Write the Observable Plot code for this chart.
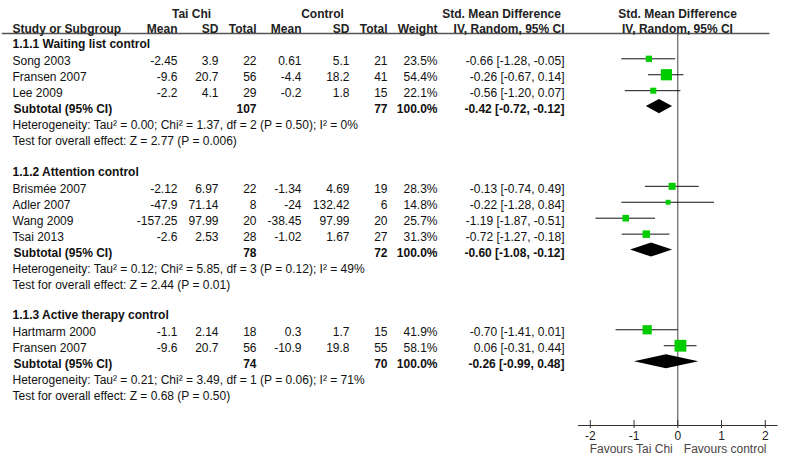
<!DOCTYPE html>
<html><head><meta charset="utf-8">
<script src="https://cdn.jsdelivr.net/npm/d3@7"></script>
<script src="https://cdn.jsdelivr.net/npm/@observablehq/plot@0.6"></script>
<style>html,body{margin:0;padding:0;background:#fff}</style>
</head><body><div id="chart"></div>
<script>
// ---- data ----
const groupNames = ["1.1.1 Waiting list control", "1.1.2 Attention control", "1.1.3 Active therapy control"];
const studies = ["Song 2003", "Fransen 2007", "Lee 2009", "Brismée 2007", "Adler 2007", "Wang 2009", "Tsai 2013", "Hartmarm 2000", "Fransen 2007"];
const studyGroup = [0, 0, 0, 1, 1, 1, 1, 2, 2];
const tcMean = [-2.45, -9.6, -2.2, -2.12, -47.9, -157.25, -2.6, -1.1, -9.6];
const tcSD = [3.9, 20.7, 4.1, 6.97, 71.14, 97.99, 2.53, 2.14, 20.7];
const tcTotal = [22, 56, 29, 22, 8, 20, 28, 18, 56];
const ctMean = [0.61, -4.4, -0.2, -1.34, -24, -38.45, -1.02, 0.3, -10.9];
const ctSD = [5.1, 18.2, 1.8, 4.69, 132.42, 97.99, 1.67, 1.7, 19.8];
const ctTotal = [21, 41, 15, 19, 6, 20, 27, 15, 55];
const weight = [23.5, 54.4, 22.1, 28.3, 14.8, 25.7, 31.3, 41.9, 58.1];
const smd = [-0.66, -0.26, -0.56, -0.13, -0.22, -1.19, -0.72, -0.70, 0.06];
const ciLow = [-1.28, -0.67, -1.20, -0.74, -1.28, -1.87, -1.27, -1.41, -0.31];
const ciHigh = [-0.05, 0.14, 0.07, 0.49, 0.84, -0.51, -0.18, 0.01, 0.44];

const subTcTotal = [107, 78, 74];
const subCtTotal = [77, 72, 70];
const subWeight = [100.0, 100.0, 100.0];
const subSmd = [-0.42, -0.60, -0.26];
const subLow = [-0.72, -1.08, -0.99];
const subHigh = [-0.12, -0.12, 0.48];
const heterogeneity = [
  "Heterogeneity: Tau² = 0.00; Chi² = 1.37, df = 2 (P = 0.50); I² = 0%",
  "Heterogeneity: Tau² = 0.12; Chi² = 5.85, df = 3 (P = 0.12); I² = 49%",
  "Heterogeneity: Tau² = 0.21; Chi² = 3.49, df = 1 (P = 0.06); I² = 71%"
];
const overallEffect = [
  "Test for overall effect: Z = 2.77 (P = 0.006)",
  "Test for overall effect: Z = 2.44 (P = 0.01)",
  "Test for overall effect: Z = 0.68 (P = 0.50)"
];
const topHeaders = ["Tai Chi", "Control", "Std. Mean Difference", "Std. Mean Difference"];
const colHeaders = ["Study or Subgroup", "Mean", "SD", "Total", "Mean", "SD", "Total", "Weight", "IV, Random, 95% CI", "IV, Random, 95% CI"];
const xTicks = [-2, -1, 0, 1, 2];
const favoursLabels = ["Favours Tai Chi", "Favours control"];

// ---- layout ----
const W = 787, H = 466;
const ML = 578, MR = 10.4, MT = 33, MB = 41;
const FS = 12;
const GDY = -2.7; // graphics offset relative to text rows
const f2 = v => v.toFixed(2);
const ci = (e, l, h) => `${f2(e)} [${f2(l)}, ${f2(h)}]`;

// build rows
let row = 2;
const groupRows = [], studyRows = [], subRows = [], hetRows = [], testRows = [];
groupNames.forEach((g, gi) => {
  groupRows.push({row, label: g}); row++;
  studies.forEach((s, i) => {
    if (studyGroup[i] !== gi) return;
    studyRows.push({row, name: s, tcMean: tcMean[i], tcSD: tcSD[i], tcTotal: tcTotal[i],
      ctMean: ctMean[i], ctSD: ctSD[i], ctTotal: ctTotal[i], weight: weight[i],
      smd: smd[i], lo: ciLow[i], hi: ciHigh[i]});
    row++;
  });
  subRows.push({row, g: gi, tc: subTcTotal[gi], ct: subCtTotal[gi], weight: subWeight[gi],
    smd: subSmd[gi], lo: subLow[gi], hi: subHigh[gi]});
  row++;
  hetRows.push({row, text: heterogeneity[gi]}); row++;
  testRows.push({row, text: overallEffect[gi]}); row += 2;
});
const HH = 0.44; // diamond half-height in rows
const diamonds = subRows.flatMap(s => [
  {g: s.g, y: s.row - HH, x1: s.smd, x2: s.smd},
  {g: s.g, y: s.row, x1: s.lo, x2: s.hi},
  {g: s.g, y: s.row + HH, x1: s.smd, x2: s.smd}
]);
const headerRows0 = topHeaders.map((t, i) => ({row: 0, text: t, i}));
const headerRows1 = colHeaders.map((t, i) => ({row: 1, text: t, i}));

const T = (data, text, px, anchor, extra = {}) => Plot.text(data, {
  y: "row", text, frameAnchor: "left", dx: px - ML, textAnchor: anchor,
  fontSize: FS, fill: "#111", ...extra
});

const topPos = [[191, "middle"], [322, "middle"], [501, "middle"], [677, "middle"]];
const colPos = [[12, "start"], [177, "end"], [218, "end"], [256, "end"], [301, "end"], [349, "end"], [387, "end"], [437, "end"], [564, "end"], [677, "middle"]];
const frameH = H - MT - MB;

const marks = [
  // header separator and zero line
  Plot.frame({anchor: "top", insetLeft: -(ML - 2), insetRight: -(W - MR - 785), stroke: "#555", strokeWidth: 1.5}),
  Plot.ruleX([0], {stroke: "#444", strokeWidth: 1}),
  Plot.frame({anchor: "bottom", stroke: "#333", strokeWidth: 1}),
  // tick marks crossing the axis line
  Plot.ruleX(xTicks, {x: d => d, insetTop: frameH - 5, insetBottom: -3, stroke: "#333", strokeWidth: 1}),
  Plot.axisX({ticks: xTicks, tickFormat: d => String(d), tickSize: 0, tickPadding: 6,
    fontSize: FS, fill: "#222", label: null}),
  ...favoursLabels.map((lab, i) => Plot.text([lab], {
    x: [0], frameAnchor: "bottom", dy: 27, dx: i === 0 ? -5 : 6,
    textAnchor: i === 0 ? "end" : "start", fontSize: FS, fill: "#4a4444"
  })),
  // headers
  ...topPos.map(([px, a], i) => T(headerRows0.filter(d => d.i === i), "text", px, a, {fontWeight: "bold", fill: "#222"})),
  ...colPos.map(([px, a], i) => T(headerRows1.filter(d => d.i === i), "text", px, a, {fontWeight: "bold", fill: "#222"})),
  // groups
  T(groupRows, "label", 12, "start", {fontWeight: "bold", dy: -1.2}),
  // studies
  T(studyRows, "name", 12, "start"),
  T(studyRows, d => String(d.tcMean), 177, "end"),
  T(studyRows, d => String(d.tcSD), 218, "end"),
  T(studyRows, d => String(d.tcTotal), 256, "end"),
  T(studyRows, d => String(d.ctMean), 301, "end"),
  T(studyRows, d => String(d.ctSD), 349, "end"),
  T(studyRows, d => String(d.ctTotal), 387, "end"),
  T(studyRows, d => d.weight.toFixed(1) + "%", 437, "end"),
  T(studyRows, d => ci(d.smd, d.lo, d.hi), 564, "end"),
  // subtotals
  T(subRows, () => "Subtotal (95% CI)", 13, "start", {fontWeight: "bold"}),
  T(subRows, d => String(d.tc), 256, "end", {fontWeight: "bold"}),
  T(subRows, d => String(d.ct), 387, "end", {fontWeight: "bold"}),
  T(subRows, d => d.weight.toFixed(1) + "%", 437, "end", {fontWeight: "bold"}),
  T(subRows, d => ci(d.smd, d.lo, d.hi), 564, "end", {fontWeight: "bold"}),
  T(hetRows, "text", 12, "start"),
  T(testRows, "text", 12, "start"),
  // forest graphics
  Plot.ruleY(studyRows, {y: "row", x1: "lo", x2: "hi", stroke: "#111", strokeWidth: 1, dy: GDY}),
  Plot.dot(studyRows, {x: "smd", y: "row", r: "weight", symbol: "square", fill: "#00cc00", stroke: "none", dy: GDY}),
  Plot.areaX(diamonds, {y: "y", x1: "x1", x2: "x2", z: "g", fill: "#000", dy: GDY})
];

const chart = Plot.plot({
  width: W, height: H,
  marginLeft: ML, marginRight: MR, marginTop: MT, marginBottom: MB,
  style: {fontFamily: "'Liberation Sans', Arial, sans-serif", fontSize: "12px", background: "#fff"},
  x: {domain: [-2.27, 2.27]},
  y: {domain: [0, 24], range: [13.18, 13.18 + 15.94 * 24], axis: null},
  r: {type: "linear", domain: [0, 60], range: [1.41, 6.83]},
  marks
});
document.getElementById("chart").appendChild(chart);
</script></body></html>
